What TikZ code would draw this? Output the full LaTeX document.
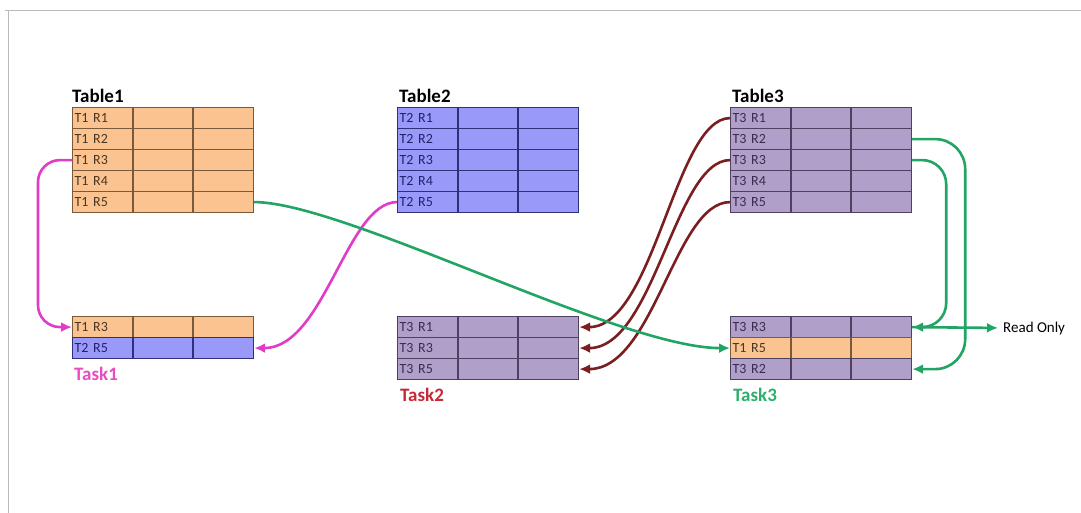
\documentclass[tikz,border=0pt]{standalone}
\usepackage{fontspec}
\setmainfont{Carlito}
\usepackage{tikz}
\usetikzlibrary{arrows.meta,positioning,calc}

\definecolor{orangefill}{HTML}{FAC38F}
\definecolor{orangeline}{HTML}{7A5A3C}
\definecolor{orangetext}{HTML}{4A3626}
\definecolor{bluefill}{HTML}{9999FA}
\definecolor{blueline}{HTML}{30307A}
\definecolor{bluetext}{HTML}{22226A}
\definecolor{purplefill}{HTML}{B09FC8}
\definecolor{purpleline}{HTML}{4E4060}
\definecolor{purpletext}{HTML}{3A2C50}
\definecolor{linkpink}{HTML}{E03CC8}
\definecolor{linkred}{HTML}{7A1E22}
\definecolor{linkgreen}{HTML}{22A464}
\definecolor{taskpink}{HTML}{E84CC0}
\definecolor{taskred}{HTML}{C42A36}
\definecolor{taskgreen}{HTML}{2EAE6C}

\tikzset{
  cell/.style={draw, line width=1.2pt, anchor=north west, minimum height=21pt,
    text width=177pt, inner sep=2pt, align=left,
    font=\fontsize{14}{16}\selectfont},
  orow/.style={cell, fill=orangefill, draw=orangeline, text=orangetext},
  brow/.style={cell, fill=bluefill, draw=blueline, text=bluetext},
  prow/.style={cell, fill=purplefill, draw=purpleline, text=purpletext},
  orowline/.style={line width=1.2pt, draw=orangeline},
  browline/.style={line width=1.2pt, draw=blueline},
  prowline/.style={line width=1.2pt, draw=purpleline},
  title/.style={anchor=base west, inner sep=0pt, font=\bfseries\fontsize{19}{22}\selectfont},
  link/.style={line width=2.6pt, -{Latex[length=11pt,width=10pt]}},
}

% one table row: name, style, top left corner, label
\newcommand{\dbrow}[4]{%
  \node[#2] (#1) at (#3) {#4};
  \draw[#2line] ([xshift=61pt]#1.north west) -- ([xshift=61pt]#1.south west)
    ([xshift=121pt]#1.north west) -- ([xshift=121pt]#1.south west);
}

\begin{document}
\begin{tikzpicture}[x=1pt,y=-1pt]
  \useasboundingbox (0,0) rectangle (1081,513);
  \draw[gray!55, line width=1.5pt] (5,10.5) -- (1081,10.5);
  \draw[gray!55, line width=1.5pt] (8.5,10) -- (8.5,513);

  % source tables
  \node[title] (t1title) at (72,103) {Table1};
  \node[title] (t2title) at (399,103) {Table2};
  \node[title] (t3title) at (732,103) {Table3};
  \foreach \i in {1,...,5} {
    \dbrow{t1r\i}{orow}{72,{86+21*\i}}{T1 R\i}
    \dbrow{t2r\i}{brow}{397,{86+21*\i}}{T2 R\i}
    \dbrow{t3r\i}{prow}{730,{86+21*\i}}{T3 R\i}
  }

  % task tables
  \dbrow{task1a}{orow}{72,316}{T1 R3}
  \dbrow{task1b}{brow}{72,337}{T2 R5}
  \dbrow{task2a}{prow}{397,316}{T3 R1}
  \dbrow{task2b}{prow}{397,337}{T3 R3}
  \dbrow{task2c}{prow}{397,358}{T3 R5}
  \dbrow{task3a}{prow}{730,316}{T3 R3}
  \dbrow{task3b}{orow}{730,337}{T1 R5}
  \dbrow{task3c}{prow}{730,358}{T3 R2}
  \node[title, text=taskpink] (task1) at (74,380) {Task1};
  \node[title, text=taskred] (task2) at (400,401) {Task2};
  \node[title, text=taskgreen] (task3) at (733,401) {Task3};
  \node[anchor=west, inner sep=0pt, font=\fontsize{15}{18}\selectfont] (ro) at (1003,328) {Read Only};

  % links into Task1
  \draw[link, linkpink, rounded corners=22pt] (t1r3.west) -| ([xshift=-34pt]task1a.west) -- (task1a.west);
  \draw[link, linkpink] (t2r5.west) .. controls +(-50,0) and +(70,0) .. (task1b.east);

  % links into Task2
  \draw[link, linkred] (t3r1.west) .. controls +(-55,0) and +(75,0) .. (task2a.east);
  \draw[link, linkred] (t3r3.west) .. controls +(-55,0) and +(75,0) .. (task2b.east);
  \draw[link, linkred] (t3r5.west) .. controls +(-55,0) and +(75,0) .. (task2c.east);

  % links into Task3
  \draw[link, linkgreen] (t1r5.east) .. controls +(90,0) and +(-110,0) .. (task3b.west);
  \draw[link, linkgreen, rounded corners=30pt] (t3r2.east) -| ([xshift=53pt]task3c.east) -- (task3c.east);
  \draw[link, linkgreen, rounded corners=24pt] (t3r3.east) -| ([xshift=34pt]task3a.east) -- (task3a.east);
  \draw[link, linkgreen, shorten >=5pt] (task3a.east) -- (ro.west);
\end{tikzpicture}
\end{document}
